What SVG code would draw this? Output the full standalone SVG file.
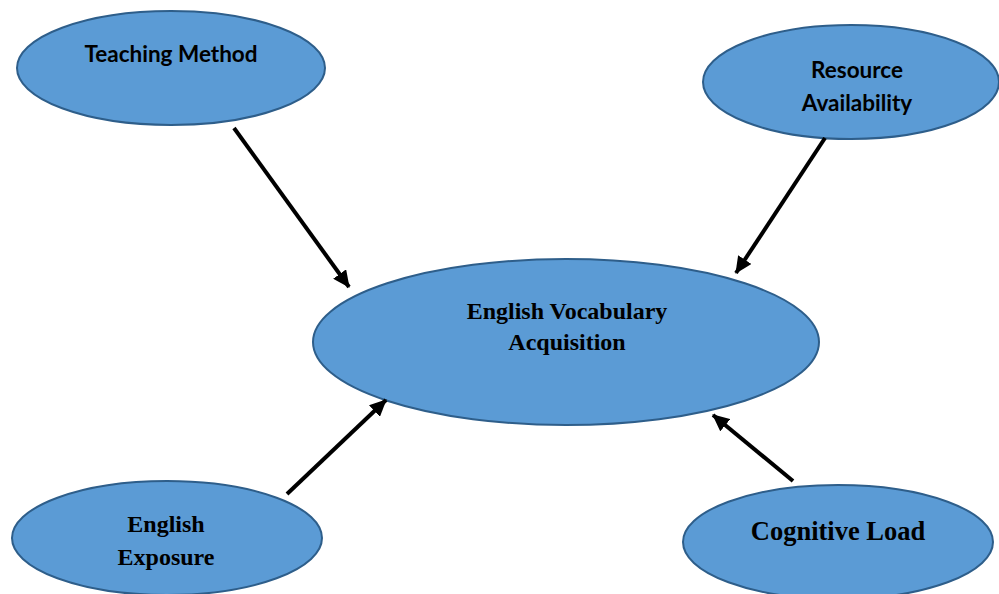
<svg xmlns="http://www.w3.org/2000/svg" width="999" height="594" viewBox="0 0 999 594">
<style>
.node ellipse{fill:#5B9BD5;stroke:#2E5E8A;stroke-width:2}
.sans{font-family:"Lato","Liberation Sans",sans-serif;font-weight:bold;fill:#000;text-anchor:middle}
.serif{font-family:"Liberation Serif","Times New Roman",serif;font-weight:bold;fill:#000;text-anchor:middle}
.conn line{stroke:#000;stroke-width:4;marker-end:url(#ah)}
</style>
<defs>
<marker id="ah" markerUnits="userSpaceOnUse" markerWidth="18" markerHeight="16" refX="16" refY="8" orient="auto">
<path d="M0,0 L17,8 L0,16 Z" fill="#000"/>
</marker>
</defs>
<rect width="999" height="594" fill="#fff"/>
<g id="teaching-method" class="node">
<ellipse cx="171" cy="68" rx="154" ry="57"/>
<text class="sans" x="171" y="62" font-size="22.5">Teaching Method</text>
</g>
<g id="resource-availability" class="node">
<ellipse cx="851" cy="82" rx="148" ry="57"/>
<text class="sans" x="857" y="78" font-size="22.5">Resource</text>
<text class="sans" x="857" y="111" font-size="22.5">Availability</text>
</g>
<g id="english-vocabulary-acquisition" class="node">
<ellipse cx="566" cy="342" rx="253" ry="83"/>
<text class="serif" x="567" y="319" font-size="24">English Vocabulary</text>
<text class="serif" x="567" y="350" font-size="24">Acquisition</text>
</g>
<g id="english-exposure" class="node">
<ellipse cx="167" cy="538" rx="155" ry="57"/>
<text class="serif" x="166" y="532" font-size="24">English</text>
<text class="serif" x="166" y="565" font-size="24">Exposure</text>
</g>
<g id="cognitive-load" class="node">
<ellipse cx="838" cy="542" rx="155" ry="57"/>
<text class="serif" x="838" y="540" font-size="26.5">Cognitive Load</text>
</g>
<g id="connectors" class="conn">
<line x1="234" y1="128" x2="349" y2="287"/>
<line x1="825" y1="138" x2="736" y2="273"/>
<line x1="287" y1="494" x2="386" y2="400"/>
<line x1="793" y1="481" x2="713" y2="415"/>
</g>
</svg>
